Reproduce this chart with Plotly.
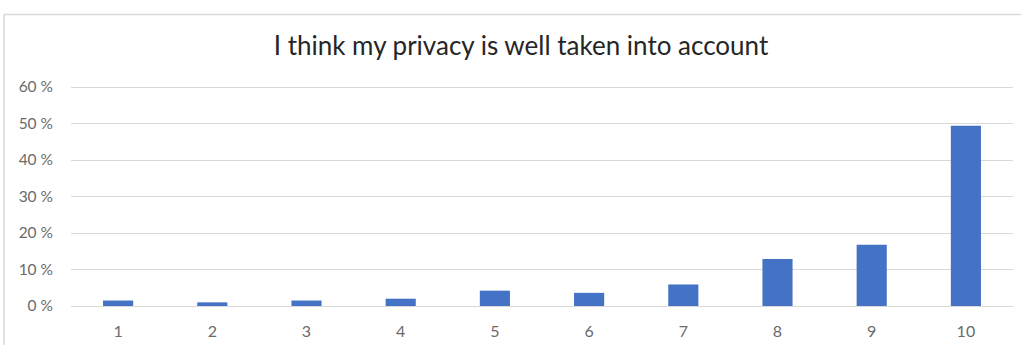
import plotly.graph_objects as go

categories = ["1", "2", "3", "4", "5", "6", "7", "8", "9", "10"]
values = [0.015, 0.010, 0.015, 0.020, 0.042, 0.036, 0.059, 0.129, 0.168, 0.494]
y_ticks = [0, 0.1, 0.2, 0.3, 0.4, 0.5, 0.6]
y_tick_labels = ["0 %", "10 %", "20 %", "30 %", "40 %", "50 %", "60 %"]
title = "I think my privacy is well taken into account"

fig = go.Figure(
    go.Bar(
        x=categories,
        y=values,
        marker=dict(color="#4472C4", line=dict(width=0)),
        width=0.32,
    )
)

W, H = 1021, 345
L, R, T, B = 71, 8, 83, 39
pw, ph = W - L - R, H - T - B

fig.update_layout(
    width=W,
    height=H,
    margin=dict(l=L, r=R, t=T, b=B, autoexpand=False),
    paper_bgcolor="white",
    plot_bgcolor="white",
    showlegend=False,
    title=dict(
        text=title,
        x=521 / W,
        xref="container",
        y=1 - 46 / H,
        yref="container",
        xanchor="center",
        yanchor="middle",
        font=dict(family="Lato", size=26, color="#262626"),
    ),
    font=dict(family="Lato", size=15, color="#6b6b6b"),
    xaxis=dict(
        type="category",
        automargin=False,
        showgrid=False,
        showline=True,
        linecolor="#D9D9D9",
        linewidth=1,
        ticks="",
        ticklabelstandoff=11,
        tickfont=dict(size=16, color="#6b6b6b"),
        fixedrange=True,
    ),
    yaxis=dict(
        automargin=False,
        range=[0, 0.611],
        tickvals=y_ticks,
        ticktext=y_tick_labels,
        showgrid=True,
        gridcolor="#D9D9D9",
        gridwidth=1,
        zeroline=False,
        showline=False,
        ticks="",
        ticklabelstandoff=17,
        tickfont=dict(size=15.5, color="#6b6b6b"),
        fixedrange=True,
    ),
    shapes=[
        dict(type="line", xref="paper", yref="paper",
             x0=(4 - L) / pw, x1=(W - L) / pw,
             y0=(H - B - 14.5) / ph, y1=(H - B - 14.5) / ph,
             line=dict(color="#D9D9D9", width=1.5)),
        dict(type="line", xref="paper", yref="paper",
             x0=(4 - L) / pw, x1=(4 - L) / pw,
             y0=(H - B - 14.5) / ph, y1=(H - B - H) / ph,
             line=dict(color="#D9D9D9", width=1.5)),
    ],
)

fig.write_html("out.html", config={"displayModeBar": False})
